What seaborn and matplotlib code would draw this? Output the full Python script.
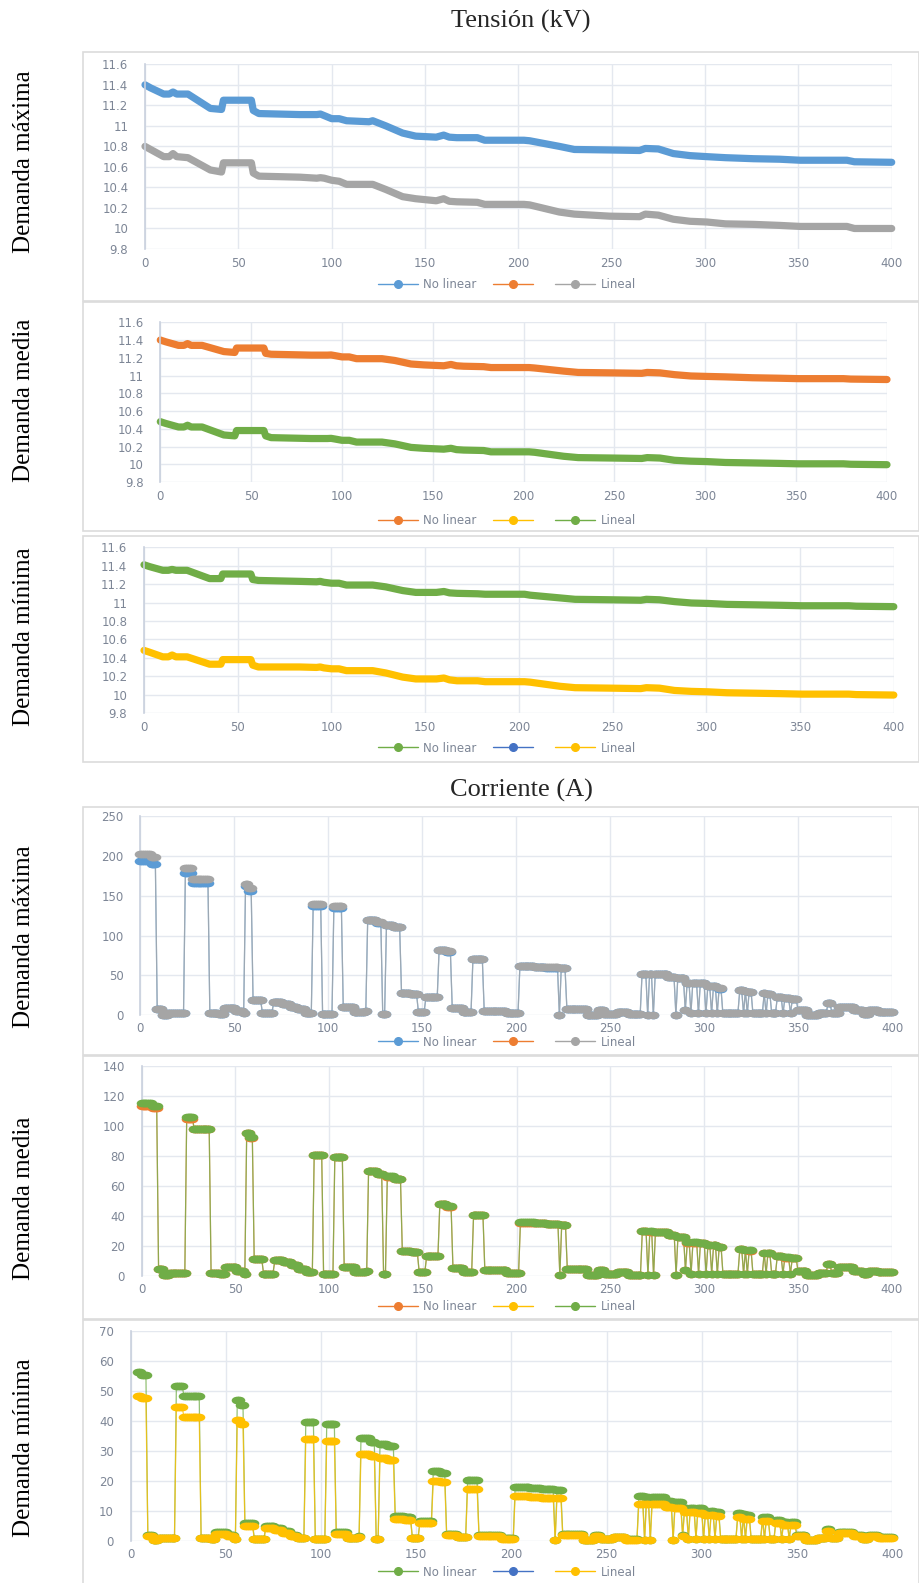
import numpy as np
import matplotlib
matplotlib.use("Agg")
import matplotlib.pyplot as plt
from matplotlib.lines import Line2D
from matplotlib.patches import Rectangle
from matplotlib.path import Path
from matplotlib.transforms import Affine2D
from matplotlib.ticker import FuncFormatter
import seaborn as sns

# ---------------------------------------------------------------- data
# Voltage profiles (kV): node positions of the profile vertices
v_nodes = [0, 3, 10, 13, 15, 17, 23, 35, 41, 42, 57, 58, 61, 83, 92, 94, 96,
           100, 104, 108, 120, 122, 129, 138, 145, 156, 160, 163, 167, 178,
           182, 203, 206, 222, 230, 249, 265, 268, 275, 283, 292, 301, 311,
           326, 340, 351, 376, 380, 400]

vmax_nolin = [11.40, 11.37, 11.31, 11.31, 11.33, 11.31, 11.31,
              11.17, 11.16, 11.25, 11.25, 11.15, 11.12,
              11.11, 11.11, 11.115, 11.10, 11.07, 11.07, 11.05,
              11.04, 11.05, 11.00, 10.93, 10.90, 10.89, 10.91,
              10.89, 10.885, 10.885, 10.86, 10.86, 10.855, 10.80,
              10.77, 10.765, 10.76, 10.78, 10.775, 10.73, 10.71,
              10.70, 10.69, 10.68, 10.675, 10.665, 10.665, 10.65, 10.645]
vmax_lin = [10.80, 10.77, 10.70, 10.70, 10.73, 10.70, 10.69,
            10.57, 10.55, 10.64, 10.64, 10.54, 10.51,
            10.50, 10.49, 10.495, 10.49, 10.47, 10.46, 10.43,
            10.43, 10.43, 10.38, 10.31, 10.29, 10.27, 10.29,
            10.265, 10.26, 10.255, 10.235, 10.235, 10.23, 10.16,
            10.14, 10.12, 10.115, 10.14, 10.13, 10.09, 10.07,
            10.063, 10.045, 10.04, 10.03, 10.02, 10.02, 10.00, 10.00]
vmed_nolin = [11.40, 11.38, 11.34, 11.34, 11.36, 11.34, 11.34,
              11.27, 11.26, 11.31, 11.31, 11.25, 11.24,
              11.23, 11.23, 11.232, 11.225, 11.21, 11.21, 11.19,
              11.19, 11.19, 11.17, 11.13, 11.12, 11.11, 11.125,
              11.11, 11.105, 11.10, 11.09, 11.09, 11.085, 11.05,
              11.035, 11.03, 11.025, 11.035, 11.03, 11.01, 10.995,
              10.99, 10.985, 10.975, 10.97, 10.965, 10.965, 10.96, 10.955]
vmed_lin = [10.48, 10.46, 10.42, 10.42, 10.44, 10.42, 10.42,
            10.33, 10.32, 10.38, 10.38, 10.32, 10.30,
            10.29, 10.29, 10.292, 10.285, 10.27, 10.27, 10.25,
            10.25, 10.25, 10.23, 10.19, 10.18, 10.17, 10.18,
            10.165, 10.16, 10.155, 10.14, 10.14, 10.135, 10.09,
            10.075, 10.07, 10.065, 10.075, 10.07, 10.045, 10.035,
            10.03, 10.02, 10.015, 10.01, 10.005, 10.005, 10.00, 9.995]
vmin_nolin = [11.41, 11.39, 11.35, 11.35, 11.36, 11.35, 11.35,
              11.26, 11.26, 11.31, 11.31, 11.25, 11.24,
              11.23, 11.225, 11.23, 11.22, 11.21, 11.21, 11.19,
              11.19, 11.19, 11.17, 11.13, 11.11, 11.11, 11.12,
              11.105, 11.10, 11.095, 11.09, 11.09, 11.08, 11.05,
              11.035, 11.03, 11.025, 11.035, 11.03, 11.01, 10.995,
              10.99, 10.98, 10.975, 10.97, 10.965, 10.965, 10.96, 10.955]
vmin_lin = [10.48, 10.46, 10.41, 10.41, 10.43, 10.41, 10.41,
            10.33, 10.33, 10.38, 10.38, 10.32, 10.30,
            10.30, 10.295, 10.30, 10.29, 10.28, 10.28, 10.26,
            10.26, 10.26, 10.235, 10.19, 10.17, 10.17, 10.18,
            10.16, 10.15, 10.15, 10.14, 10.14, 10.135, 10.09,
            10.075, 10.07, 10.065, 10.075, 10.07, 10.045, 10.035,
            10.03, 10.02, 10.015, 10.01, 10.005, 10.005, 10.00, 9.995]

# Branch currents (A): first node of each block of nodes sharing a value
seg_start = [0, 4, 6, 9, 12, 15, 24, 28, 37, 42, 45, 51, 55, 56, 58, 60, 65,
             71, 76, 80, 84, 88, 92, 97, 103, 108, 114, 120, 121, 126, 129,
             131, 135, 139, 144, 148, 152, 159, 163, 166, 172, 177, 183, 195,
             202, 210, 216, 223, 224, 227, 238, 244, 247, 254, 260, 267, 270,
             271, 273, 274, 281, 285, 286, 290, 291, 293, 294, 297, 298, 301,
             302, 304, 305, 307, 308, 310, 319, 321, 322, 323, 324, 326, 332,
             333, 334, 336, 339, 342, 343, 346, 347, 350, 355, 361, 366, 368,
             372, 380, 385, 388, 393]
last_node = 400

imax_nolin = [193, 193, 190, 7.5, 0.5, 3.3, 179, 166, 3.3, 1.5, 9.0, 5.8, 2.5,
              162, 156, 19.5, 2.5, 16.7, 14.0, 11.0, 7.5, 3.3, 137.5, 1.7,
              134.5, 10.0, 4.2, 6.0, 119.0, 115.5, 1.7, 113.0, 110.5, 28.4,
              27.0, 3.8, 22.6, 81.5, 80.0, 8.8, 4.6, 70.4, 5.8, 2.5, 62.0,
              61.0, 59.8, 0.4, 59.2, 8.0, 0.8, 6.5, 1.5, 4.5, 1.3, 51.6, 0.4,
              51.6, 0.4, 51.3, 48.2, 0.8, 46.3, 6.3, 40.6, 2.5, 40.4, 2.5,
              40.1, 2.5, 36.5, 2.5, 36.3, 2.5, 33.6, 2.5, 31.5, 2.5, 30.3,
              2.5, 29.5, 2.5, 27.4, 2.5, 27.0, 2.5, 23.2, 2.5, 21.2, 2.5,
              20.7, 6.3, 0.8, 3.5, 14.9, 3.5, 10.7, 6.3, 2.0, 6.3, 4.2]
imax_lin = [202, 202, 199, 7.5, 0.5, 3.3, 185, 171, 3.3, 1.5, 9.0, 5.8, 2.5,
            165, 160, 19.5, 2.5, 16.7, 14.0, 11.0, 7.5, 3.3, 139.5, 1.7,
            136.5, 10.0, 4.2, 6.0, 120.0, 116.5, 1.7, 113.6, 111.0, 28.4,
            27.0, 3.8, 22.6, 82.0, 80.5, 8.8, 4.6, 70.6, 5.8, 2.5, 62.2,
            61.2, 60.0, 0.4, 59.3, 8.0, 0.8, 6.5, 1.5, 4.5, 1.3, 51.8, 0.4,
            51.8, 0.4, 51.5, 48.4, 0.8, 46.5, 6.3, 40.8, 2.5, 40.6, 2.5,
            40.3, 2.5, 36.7, 2.5, 36.5, 2.5, 33.8, 2.5, 31.7, 2.5, 30.5,
            2.5, 29.7, 2.5, 27.6, 2.5, 27.2, 2.5, 23.4, 2.5, 21.4, 2.5,
            20.9, 6.3, 0.8, 3.5, 15.0, 3.5, 10.8, 6.3, 2.0, 6.3, 4.2]
imed_nolin = [113.5, 113.5, 112.0, 4.5, 0.5, 2.3, 105.0, 97.8, 2.2, 1.5, 5.8,
              3.5, 1.5, 95.3, 92.2, 11.5, 1.5, 10.4, 9.1, 7.1, 4.9, 2.4,
              80.6, 1.5, 79.2, 5.8, 2.8, 3.5, 70.0, 67.7, 1.5, 66.2, 64.8,
              16.7, 15.8, 2.5, 13.5, 47.8, 46.3, 5.5, 3.0, 40.5, 4.0, 1.8,
              35.6, 35.1, 34.4, 0.5, 34.1, 4.6, 0.6, 4.0, 1.2, 2.8, 1.0,
              29.7, 0.4, 29.6, 0.4, 29.4, 27.3, 0.8, 26.0, 3.8, 22.3, 1.5,
              22.2, 1.5, 22.0, 1.5, 20.5, 1.5, 20.4, 1.5, 19.3, 1.5, 17.8,
              1.5, 17.3, 1.5, 17.0, 1.5, 15.4, 1.5, 15.2, 1.5, 13.3, 1.5,
              12.2, 1.5, 12.0, 3.6, 0.6, 2.2, 8.1, 2.2, 5.9, 3.5, 1.3, 3.5,
              2.5]
imed_lin = [115.5, 115.5, 113.5, 4.5, 0.5, 2.3, 105.8, 98.2, 2.2, 1.5, 5.8,
            3.5, 1.5, 95.5, 92.4, 11.6, 1.5, 10.4, 9.1, 7.1, 4.9, 2.4,
            81.0, 1.5, 79.5, 5.8, 2.8, 3.5, 70.2, 68.0, 1.5, 66.4, 65.0,
            16.7, 15.8, 2.5, 13.5, 48.0, 46.5, 5.5, 3.0, 40.7, 4.0, 1.8,
            35.8, 35.3, 34.6, 0.5, 34.2, 4.6, 0.6, 4.0, 1.2, 2.8, 1.0,
            29.8, 0.4, 29.7, 0.4, 29.5, 27.5, 0.8, 26.2, 3.8, 22.5, 1.5,
            22.4, 1.5, 22.2, 1.5, 20.7, 1.5, 20.6, 1.5, 19.5, 1.5, 18.0,
            1.5, 17.5, 1.5, 17.2, 1.5, 15.6, 1.5, 15.4, 1.5, 13.5, 1.5,
            12.4, 1.5, 12.2, 3.6, 0.6, 2.2, 8.2, 2.2, 6.0, 3.5, 1.3, 3.5,
            2.5]
imin_nolin = [np.nan, 56.2, 55.4, 2.0, 0.3, 1.0, 51.8, 48.2, 0.8, 0.6, 2.8,
              1.8, 0.6, 47.0, 45.4, 5.8, 0.5, 4.9, 4.3, 3.2, 2.0, 1.0,
              39.5, 0.5, 38.8, 2.8, 1.0, 1.5, 34.3, 33.0, 0.5, 32.3, 31.7,
              8.3, 8.0, 1.0, 6.7, 23.1, 22.6, 2.4, 1.4, 20.2, 1.8, 0.8,
              17.8, 17.5, 17.1, 0.2, 17.0, 2.3, 0.3, 2.0, 0.6, 1.3, 0.5,
              14.8, 0.2, 14.7, 0.2, 14.6, 13.3, 0.4, 12.8, 1.8, 11.0, 0.7,
              10.9, 0.7, 10.8, 0.7, 10.0, 0.7, 9.9, 0.7, 9.5, 0.7, 9.3,
              0.7, 8.9, 0.7, 8.7, 0.7, 7.9, 0.7, 7.8, 0.7, 6.9, 0.7, 6.3,
              0.7, 6.1, 1.8, 0.2, 1.0, 3.8, 1.0, 3.0, 1.8, 0.6, 1.8, 1.2]
imin_lin = [np.nan, 48.3, 47.6, 1.7, 0.2, 0.8, 44.6, 41.3, 0.8, 0.5, 2.3,
            1.5, 0.5, 40.2, 38.8, 4.8, 0.5, 4.2, 3.7, 2.7, 1.7, 0.8,
            33.8, 0.5, 33.2, 2.3, 0.9, 1.3, 29.1, 28.3, 0.5, 27.6, 27.0,
            7.1, 6.8, 0.9, 5.8, 20.0, 19.5, 2.0, 1.2, 17.1, 1.6, 0.7,
            14.9, 14.6, 14.3, 0.2, 14.2, 1.9, 0.3, 1.7, 0.5, 1.1, 0.4,
            12.4, 0.2, 12.3, 0.2, 12.2, 11.3, 0.3, 10.9, 1.5, 9.6, 0.6,
            9.5, 0.6, 9.4, 0.6, 8.7, 0.6, 8.6, 0.6, 8.2, 0.6, 7.8,
            0.6, 7.4, 0.6, 7.2, 0.6, 6.7, 0.6, 6.6, 0.6, 5.8, 0.6, 5.2,
            0.6, 5.1, 1.5, 0.2, 0.9, 3.3, 0.9, 2.5, 1.5, 0.5, 1.5, 1.0]

# ---------------------------------------------------------------- style
BLUE, ORANGE, GRAY = "#5B9BD5", "#ED7D31", "#A5A5A5"
YELLOW, GREEN, DBLUE = "#FFC000", "#70AD47", "#4472C4"
GRID = "#E4E8EF"
AXIS = "#C9D1DE"
TICK = "#7D8696"
FRAME = "#DCDCDC"
SERIF = "Liberation Serif"

sns.set_style("white")
plt.rcParams["font.family"] = ["DejaVu Sans"]

W, H = 920, 1583
fig = plt.figure(figsize=(W / 100, H / 100), dpi=100)

node_counts = np.diff(seg_start + [last_node + 1])
nodes = np.arange(last_node + 1)


def per_node(values):
    return np.repeat(np.asarray(values, dtype=float), node_counts)


ellipse = Path.unit_circle().transformed(Affine2D().scale(1.0, 0.66))


def add_axes_px(x0, x1, ytop, ybot):
    return fig.add_axes([x0 / W, 1 - ybot / H, (x1 - x0) / W, (ybot - ytop) / H])


def style(ax, ylim, yticks, ypad=12, xpad=6):
    ax.set_xlim(0, 400)
    ax.set_ylim(*ylim)
    ax.set_xticks(range(0, 401, 50))
    ax.set_yticks(yticks)
    ax.yaxis.set_major_formatter(FuncFormatter(lambda v, p: f"{v:g}"))
    ax.grid(True, color=GRID, lw=1.0)
    ax.set_axisbelow(True)
    for s in ("top", "right", "bottom"):
        ax.spines[s].set_visible(False)
    ax.spines["left"].set_color(AXIS)
    ax.spines["left"].set_linewidth(1.2)
    ax.tick_params(axis="y", length=0, labelsize=8.5, labelcolor=TICK, pad=ypad)
    ax.tick_params(axis="x", length=0, labelsize=8.5, labelcolor=TICK, pad=xpad)
    ax.set_xlabel("")
    ax.set_ylabel("")
    ax.patch.set_alpha(0)


def frame(top, bottom):
    fig.patches.append(Rectangle((83 / W, 1 - bottom / H), (919 - 83) / W,
                                 (bottom - top) / H, transform=fig.transFigure,
                                 fill=False, edgecolor=FRAME, lw=1.2))


def legend(y, c1, cm, c2):
    handles = [Line2D([], [], color=c, lw=1.0, marker="o", ms=5.5,
                      markeredgecolor=c, markerfacecolor=c) for c in (c1, cm, c2)]
    fig.legend(handles, ["No linear", "", "Lineal"], loc="center",
               bbox_to_anchor=(507 / W, 1 - y / H), ncol=3, frameon=False,
               fontsize=8.5, handlelength=3.4, handletextpad=0.45,
               columnspacing=1.4, labelcolor=TICK)


def side_label(y, text):
    fig.text(24 / W, 1 - y / H, text, rotation=90, ha="center", va="center",
             family=SERIF, fontsize=18, color="black")


# ---------------------------------------------------------------- titles
fig.text(521 / W, 1 - 21 / H, "Tensión (kV)", ha="center", va="center",
         family=SERIF, fontsize=19)
fig.text(521 / W, 1 - 790 / H, "Corriente (A)", ha="center", va="center",
         family=SERIF, fontsize=19)

# ---------------------------------------------------------------- voltage panels
vticks = np.round(np.arange(9.8, 11.61, 0.2), 1)
voltage_panels = [
    dict(box=(52, 301), ax=(145, 891.7, 64.3, 249), series=(vmax_nolin, BLUE, vmax_lin, GRAY),
         mid=ORANGE, label="Demanda máxima", label_y=162, leg_y=285),
    dict(box=(302, 531), ax=(160.3, 887, 322.3, 482), series=(vmed_nolin, ORANGE, vmed_lin, GREEN),
         mid=YELLOW, label="Demanda media", label_y=400, leg_y=521),
    dict(box=(536, 762), ax=(144, 893.8, 547.3, 713), series=(vmin_nolin, GREEN, vmin_lin, YELLOW),
         mid=DBLUE, label="Demanda mínima", label_y=637, leg_y=748),
]
for p in voltage_panels:
    frame(*p["box"])
    ax = add_axes_px(*p["ax"])
    s1, c1, s2, c2 = p["series"]
    for vals, col in ((s1, c1), (s2, c2)):
        sns.lineplot(x=v_nodes, y=vals, ax=ax, color=col, lw=5.2,
                     estimator=None, sort=False, solid_capstyle="round",
                     solid_joinstyle="round", clip_on=False)
    style(ax, (9.8, 11.6), vticks)
    side_label(p["label_y"], p["label"])
    legend(p["leg_y"], c1, p["mid"], c2)

# ---------------------------------------------------------------- current panels
current_panels = [
    dict(box=(807, 1055), ax=(140.3, 892, 816, 1015.3), ylim=(0, 250), step=50,
         series=(imax_nolin, BLUE, imax_lin, GRAY), mid=ORANGE,
         label="Demanda máxima", label_y=937, leg_y=1042),
    dict(box=(1056, 1319), ax=(141.7, 891.7, 1066, 1276), ylim=(0, 140), step=20,
         series=(imed_nolin, ORANGE, imed_lin, GREEN), mid=YELLOW,
         label="Demanda media", label_y=1198, leg_y=1307),
    dict(box=(1320, 1590), ax=(130.7, 892, 1331, 1540.7), ylim=(0, 70), step=10,
         series=(imin_nolin, GREEN, imin_lin, YELLOW), mid=DBLUE,
         label="Demanda mínima", label_y=1448, leg_y=1572),
]
for p in current_panels:
    frame(*p["box"])
    ax = add_axes_px(*p["ax"])
    s1, c1, s2, c2 = p["series"]
    for vals, col in ((s1, c1), (s2, c2)):
        y = per_node(vals)
        sns.lineplot(x=nodes, y=y, ax=ax, color=col, lw=0.9, alpha=0.75,
                     estimator=None, sort=False, clip_on=False)
        ok = ~np.isnan(y)
        sns.scatterplot(x=nodes[ok], y=y[ok], ax=ax, color=col, marker=ellipse,
                        s=70, linewidth=0, clip_on=False, zorder=3)
    lo, hi = p["ylim"]
    style(ax, p["ylim"], np.arange(lo, hi + 1, p["step"]), xpad=5)
    side_label(p["label_y"], p["label"])
    legend(p["leg_y"], c1, p["mid"], c2)

fig.savefig("out.png", dpi=100)
